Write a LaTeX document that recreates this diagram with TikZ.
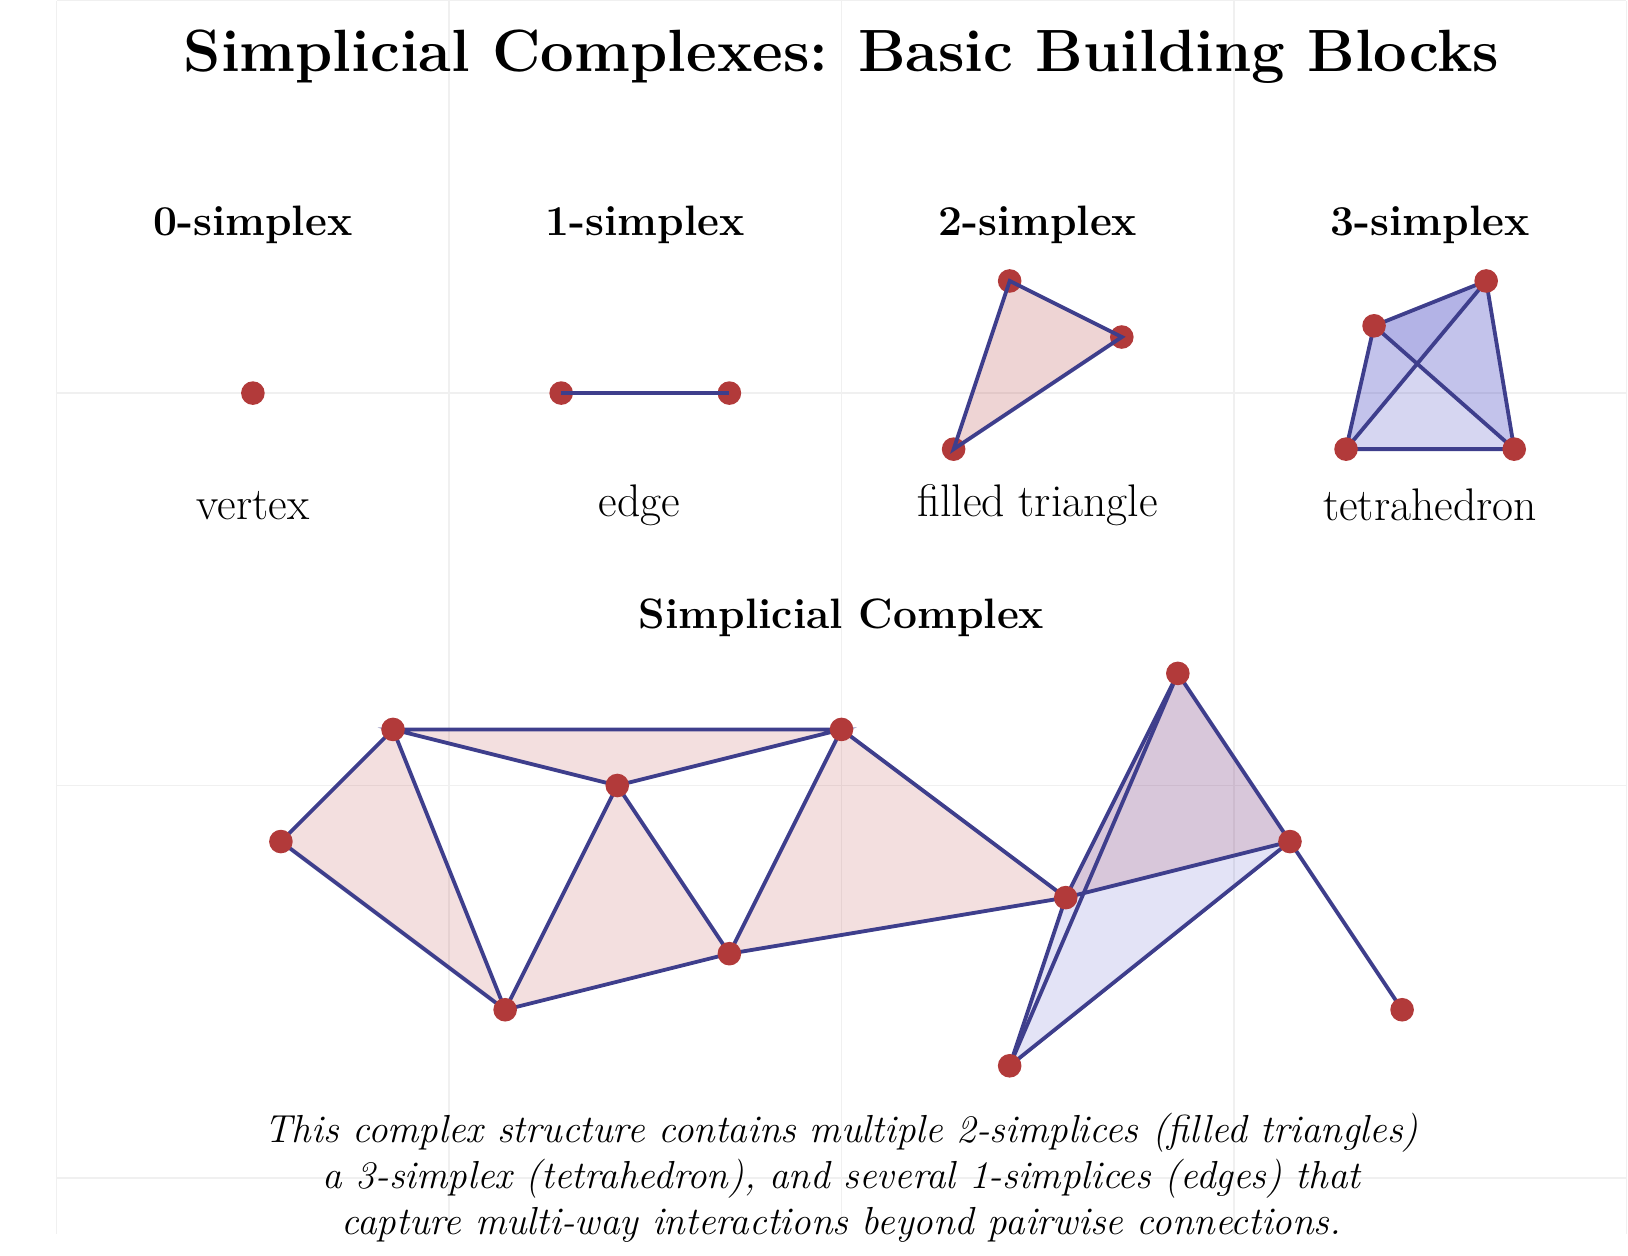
\documentclass[tikz,border=0pt]{standalone}
\usepackage{xcolor}
\usepackage{tikz}
\usetikzlibrary{backgrounds}

\definecolor{vtxred}{RGB}{178,58,58}
\definecolor{edgeblue}{RGB}{62,62,140}
\definecolor{faceblue}{RGB}{60,60,190}

\begin{document}
\begin{tikzpicture}[x=0.776cm, y=0.776cm,
        vtx/.style={circle, fill=vtxred, inner sep=0pt, minimum size=9.3pt},
        edgeline/.style={draw=edgeblue, line width=1.5pt},
        pinkface/.style={fill=vtxred, fill opacity=0.16},
        blueface/.style={fill=faceblue, fill opacity=#1},
        gridline/.style={draw=gray!12, line width=0.5pt, step=7},
        heading/.style={font={\fontsize{16.75}{20}\selectfont\bfseries}},
        caption/.style={font={\fontsize{18}{22}\selectfont}}]
        \useasboundingbox (-1.011,-1.391) rectangle (28.03,21.012);

        % Title
        \node[font={\fontsize{23.5}{28}\selectfont\bfseries}] (title) at (14,20) {Simplicial Complexes: Basic Building Blocks};

        % 0-simplex
        \node[heading] (head0) at (3.5,17) {0-simplex};
        \node[vtx] (v0) at (3.5,14) {};
        \node[caption] (cap0) at (3.5,12) {vertex};

        % 1-simplex
        \node[heading] (head1) at (10.5,17) {1-simplex};
        \node[vtx] (e1) at (9,14) {};
        \node[vtx] (e2) at (12,14) {};
        \draw[edgeline] (e1.center) -- (e2.center);
        \node[caption] (cap1) at (10.4,12) {edge};

        % 2-simplex
        \node[heading] (head2) at (17.5,17) {2-simplex};
        \node[vtx] (t1) at (17,16) {};
        \node[vtx] (t2) at (19,15) {};
        \node[vtx] (t3) at (16,13) {};
        \draw[edgeline, fill=vtxred, fill opacity=0.22] (t1.center) -- (t2.center) -- (t3.center) -- cycle;
        \node[caption] (cap2) at (17.5,12) {filled triangle};

        % 3-simplex
        \node[heading] (head3) at (24.5,17) {3-simplex};
        \node[vtx] (q1) at (23,13) {};
        \node[vtx] (q2) at (26,13) {};
        \node[vtx] (q3) at (23.5,15.2) {};
        \node[vtx] (q4) at (25.5,16) {};
        \node[caption] (cap3) at (24.5,12) {tetrahedron};

        % Simplicial complex
        \node[heading] (head4) at (14,10) {Simplicial Complex};
        \node[vtx] (a) at (4,6) {};
        \node[vtx] (b) at (6,8) {};
        \node[vtx] (c) at (10,7) {};
        \node[vtx] (d) at (14,8) {};
        \node[vtx] (e) at (8,3) {};
        \node[vtx] (f) at (12,4) {};
        \node[vtx] (g) at (18,5) {};
        \node[vtx] (h) at (20,9) {};
        \node[vtx] (i) at (22,6) {};
        \node[vtx] (j) at (17,2) {};
        \node[vtx] (k) at (24,3) {};

        \begin{scope}[on background layer]
            % Grid
            \draw[gridline] (0,-1) grid (28,21);

            % Tetrahedron faces
            \fill[blueface=0.11] (q1.center) -- (q2.center) -- (q3.center) -- cycle;
            \fill[blueface=0.11] (q1.center) -- (q2.center) -- (q4.center) -- cycle;
            \fill[blueface=0.22] (q1.center) -- (q3.center) -- (q4.center) -- cycle;
            \fill[blueface=0.22] (q2.center) -- (q3.center) -- (q4.center) -- cycle;
            \draw[edgeline] (q1.center) -- (q2.center) -- (q4.center) -- (q3.center) -- cycle;
            \draw[edgeline] (q1.center) -- (q4.center);
            \draw[edgeline] (q2.center) -- (q3.center);

            % Filled triangles
            \fill[pinkface] (a.center) -- (b.center) -- (e.center) -- cycle;
            \fill[pinkface] (b.center) -- (d.center) -- (c.center) -- cycle;
            \fill[pinkface] (c.center) -- (e.center) -- (f.center) -- cycle;
            \fill[pinkface] (d.center) -- (f.center) -- (g.center) -- cycle;
            \fill[pinkface] (g.center) -- (h.center) -- (i.center) -- cycle;

            % Tetrahedron in the complex
            \fill[blueface=0.075] (g.center) -- (h.center) -- (i.center) -- cycle;
            \fill[blueface=0.075] (g.center) -- (i.center) -- (j.center) -- cycle;
            \fill[blueface=0.075] (h.center) -- (i.center) -- (j.center) -- cycle;
            \fill[blueface=0.075] (g.center) -- (h.center) -- (j.center) -- cycle;

            % Edges
            \draw[edgeline] (a.center) -- (b.center) -- (e.center) -- cycle;
            \draw[edgeline] (b.center) -- (d.center) -- (c.center) -- cycle;
            \draw[edgeline] (c.center) -- (e.center) -- (f.center) -- cycle;
            \draw[edgeline] (d.center) -- (f.center) -- (g.center) -- cycle;
            \draw[edgeline] (g.center) -- (h.center) -- (i.center) -- cycle;
            \draw[edgeline] (j.center) -- (g.center);
            \draw[edgeline] (j.center) -- (h.center);
            \draw[edgeline] (j.center) -- (i.center);
            \draw[edgeline] (i.center) -- (k.center);
        \end{scope}

        % Description
        \node[font={\fontsize{15.4}{18}\selectfont\itshape}, align=center] (desc) at (14,0) {This complex structure contains multiple 2-simplices (filled triangles)\\
            a 3-simplex (tetrahedron), and several 1-simplices (edges) that\\
            capture multi-way interactions beyond pairwise connections.};
\end{tikzpicture}
\end{document}
